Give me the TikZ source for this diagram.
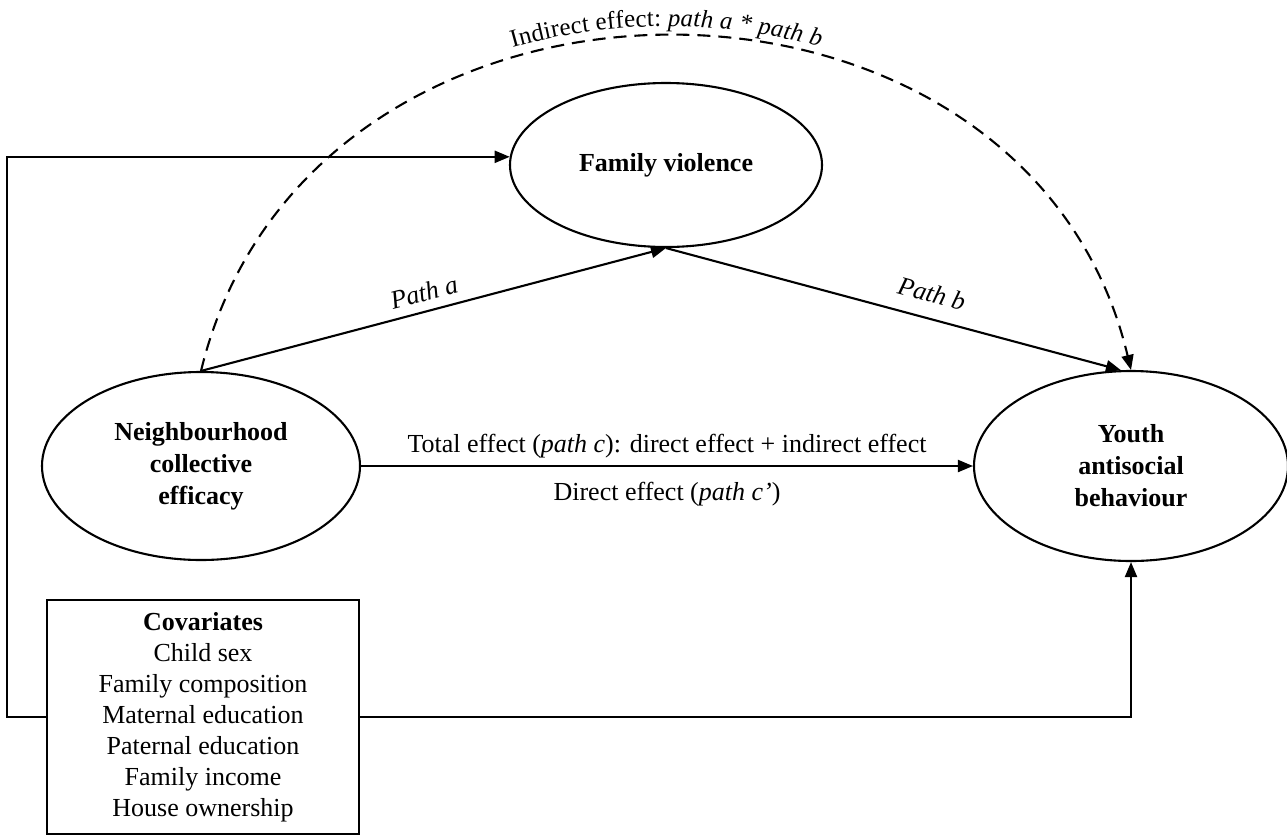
\documentclass[tikz,border=0pt]{standalone}
\usepackage{fontspec}
\setmainfont{Liberation Serif}
\usetikzlibrary{shapes.geometric,arrows.meta,decorations.text}
\newcommand{\myfs}{\fontsize{26}{32}\selectfont}
\newcommand{\myarcfs}{\fontsize{25}{30}\selectfont}
\newcommand{\mycovfs}{\fontsize{26}{31}\selectfont}
\begin{document}
\begin{tikzpicture}[x=1pt,y=-1pt,
 line width=2.1pt,
 ell/.style={ellipse,draw,inner sep=0pt,align=center,font=\myfs\bfseries},
 arr/.style={-{Triangle[length=15pt,width=12pt]}},
 plab/.style={font=\fontsize{26}{30}\selectfont\itshape,inner sep=0pt,sloped},
 lab/.style={font=\myfs,anchor=base,inner sep=0pt}]
\useasboundingbox (0,0) rectangle (1287,836);
\node[ell, minimum width=312pt, minimum height=164pt] (fv) at (666,165) {Family violence};
\node[ell, minimum width=318pt, minimum height=188pt] (nb) at (201,466) {Neighbourhood\\collective\\efficacy};
\node[ell, minimum width=314pt, minimum height=190pt] (yb) at (1131,466) {Youth\\antisocial\\behaviour};
\node[draw, minimum width=312pt, minimum height=234pt, align=center, font=\mycovfs, inner sep=0pt] (cov) at (203,717)
 {\textbf{Covariates}\\Child sex\\Family composition\\Maternal education\\Paternal education\\Family income\\House ownership};
% paths a and b
\draw[arr] (nb.north) -- node[plab,pos=0.49,above=9pt]{Path a} (fv.south);
\draw[arr] (fv.south) -- node[plab,pos=0.57,above=15pt]{Path b} (yb.96);
% indirect effect
\draw[arr, dash pattern=on 13pt off 8pt] (nb.north) .. controls (309,-75) and (1025,-75) .. (yb.north);
\path[decorate, decoration={text along path, text align=center, raise=10pt,
  text={|\myarcfs|Indirect effect: |\myarcfs\itshape|path a * path b}}]
  (nb.north) .. controls (309,-75) and (1025,-75) .. (yb.north);
% total / direct effect
\draw[arr] (nb.east) -- (yb.west);
\node[lab] (te) at (667,452) {Total effect (\textit{path c}): direct effect + indirect effect};
\node[lab] (de) at (667,500) {Direct effect (\textit{path c’})};
% covariates
\draw[arr] (cov.west) -- ++(-39,0) |- (fv.177);
\draw[arr] (cov.east) -| (yb.south);
\end{tikzpicture}
\end{document}
